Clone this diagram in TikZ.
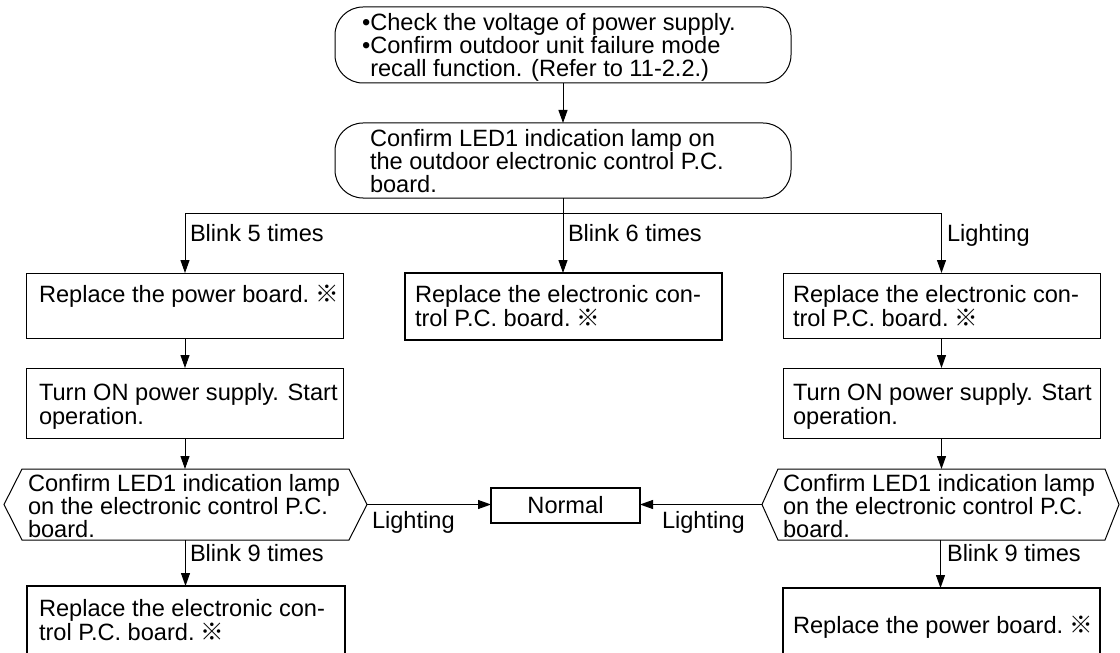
\documentclass[tikz,border=0pt]{standalone}
\usepackage{fontspec}
\setmainfont{Liberation Sans}
\newfontfamily\cjkf{Noto Sans CJK JP}
\usetikzlibrary{arrows.meta}
\newcommand\lns[1]{\vtop{\baselineskip=24.5bp\lineskiplimit=-1000pt\lineskip=0pt\halign{##\hfil\cr#1\crcr}}}
\newcommand\lnst[1]{\vtop{\baselineskip=23bp\lineskiplimit=-1000pt\lineskip=0pt\halign{##\hfil\cr#1\crcr}}}
\newcommand\kome{\hspace{-0.12em}{\cjkf ※}}
\begin{document}
\begin{tikzpicture}[x=1bp,y=-1bp,
  font=\fontsize{23.6bp}{23bp}\selectfont,
  line width=1bp,
  >={Triangle[length=13bp,width=9bp]},
  box/.style={draw,line width=1bp,inner sep=0pt,outer sep=0pt},
  thickbox/.style={box,line width=2.5bp},
  rbox/.style={box,rounded corners=28bp},
  hexa/.style={draw=none,inner sep=0pt,outer sep=0pt},
  txt/.style={anchor=base west,inner sep=0pt,outer sep=0pt},
  conn/.style={->,line width=1bp}]
\useasboundingbox (0,0) rectangle (1120,653);
\clip (0,0) rectangle (1120,653);

% boxes
\node[rbox,minimum width=456bp,minimum height=76bp] (B1) at (563,45) {};
\node[rbox,minimum width=456bp,minimum height=75bp] (B2) at (563,160.5) {};
\node[box,minimum width=316bp,minimum height=65bp] (L1) at (185,305.5) {};
\node[thickbox,minimum width=317bp,minimum height=67bp] (M) at (563.5,306.5) {};
\node[box,minimum width=317bp,minimum height=65bp] (R1) at (941.5,305.5) {};
\node[box,minimum width=316bp,minimum height=70bp] (L2) at (185,403) {};
\node[box,minimum width=317bp,minimum height=70bp] (R2) at (941.5,403) {};
\node[hexa,minimum width=363bp,minimum height=71bp] (LH) at (185.5,504.5) {};
\node[hexa,minimum width=357bp,minimum height=71bp] (RH) at (940.5,504.5) {};
\node[thickbox,minimum width=149bp,minimum height=35bp] (N) at (565.5,505.5) {Normal};
\node[thickbox,minimum width=318bp,minimum height=78bp] (LB) at (186,625) {};
\node[thickbox,minimum width=317bp,minimum height=78bp] (RB) at (941.5,627) {};

% hexagon outlines
\draw (LH.west) -- ([xshift=18bp]LH.north west) -- ([xshift=-18bp]LH.north east) -- (LH.east)
  -- ([xshift=-18bp]LH.south east) -- ([xshift=18bp]LH.south west) -- cycle;
\draw (RH.west) -- ([xshift=16bp]RH.north west) -- ([xshift=-14bp]RH.north east) -- (RH.east)
  -- ([xshift=-14bp]RH.south east) -- ([xshift=16bp]RH.south west) -- cycle;

% texts
\node[txt] (tB1) at (362,31) {\lnst{•Check the voltage of power supply.\cr •Confirm outdoor unit failure mode\cr \phantom{•}recall function. (Refer to 11-2.2.)}};
\node[txt] (tB2) at (370,147) {\lnst{Confirm LED1 indication lamp on\cr the outdoor electronic control P.C.\cr board.}};
\node[txt] (tL1) at (39,302) {Replace the power board. \kome};
\node[txt] (tM) at (415,302) {\lns{Replace the electronic con-\cr trol P.C. board. \kome}};
\node[txt] (tR1) at (793,302) {\lns{Replace the electronic con-\cr trol P.C. board. \kome}};
\node[txt] (tL2) at (39,400) {\lns{Turn ON power supply. Start\cr operation.}};
\node[txt] (tR2) at (793,400) {\lns{Turn ON power supply. Start\cr operation.}};
\node[txt] (tLH) at (28,491) {\lnst{Confirm LED1 indication lamp\cr on the electronic control P.C.\cr board.}};
\node[txt] (tRH) at (783,491) {\lnst{Confirm LED1 indication lamp\cr on the electronic control P.C.\cr board.}};
\node[txt] (tLB) at (39,616) {\lns{Replace the electronic con-\cr trol P.C. board. \kome}};
\node[txt] (tRB) at (793,633) {Replace the power board. \kome};

% connector labels
\node[txt] (l5) at (190,241) {Blink 5 times};
\node[txt] (l6) at (568,241) {Blink 6 times};
\node[txt] (lr) at (947,241) {Lighting};
\node[txt] (ll9) at (190,561) {Blink 9 times};
\node[txt] (lr9) at (947,561) {Blink 9 times};
\node[txt] (llL) at (372,528) {Lighting};
\node[txt] (lrL) at (662,528) {Lighting};

% connectors
\coordinate (J) at (563,213);
\draw[conn] (B1.south) -- (B1.south |- B2.north);
\draw[conn] (B2.south) -- (B2.south |- M.north);
\draw[conn] (J) -| (L1.north);
\draw[conn] (J) -| (R1.north);
\draw[conn] (L1.south) -- (L1.south |- L2.north);
\draw[conn] (R1.south) -- (R1.south |- R2.north);
\draw[conn] (L2.south) -- (L2.south |- LH.north);
\draw[conn] (R2.south) -- (R2.south |- RH.north);
\draw[conn] (LH.south) -- (LH.south |- LB.north);
\draw[conn] (RH.south) -- (RH.south |- RB.north);
\draw[conn] (LH.east) -- (LH.east -| N.west);
\draw[conn] (RH.west) -- (RH.west -| N.east);
\end{tikzpicture}
\end{document}
